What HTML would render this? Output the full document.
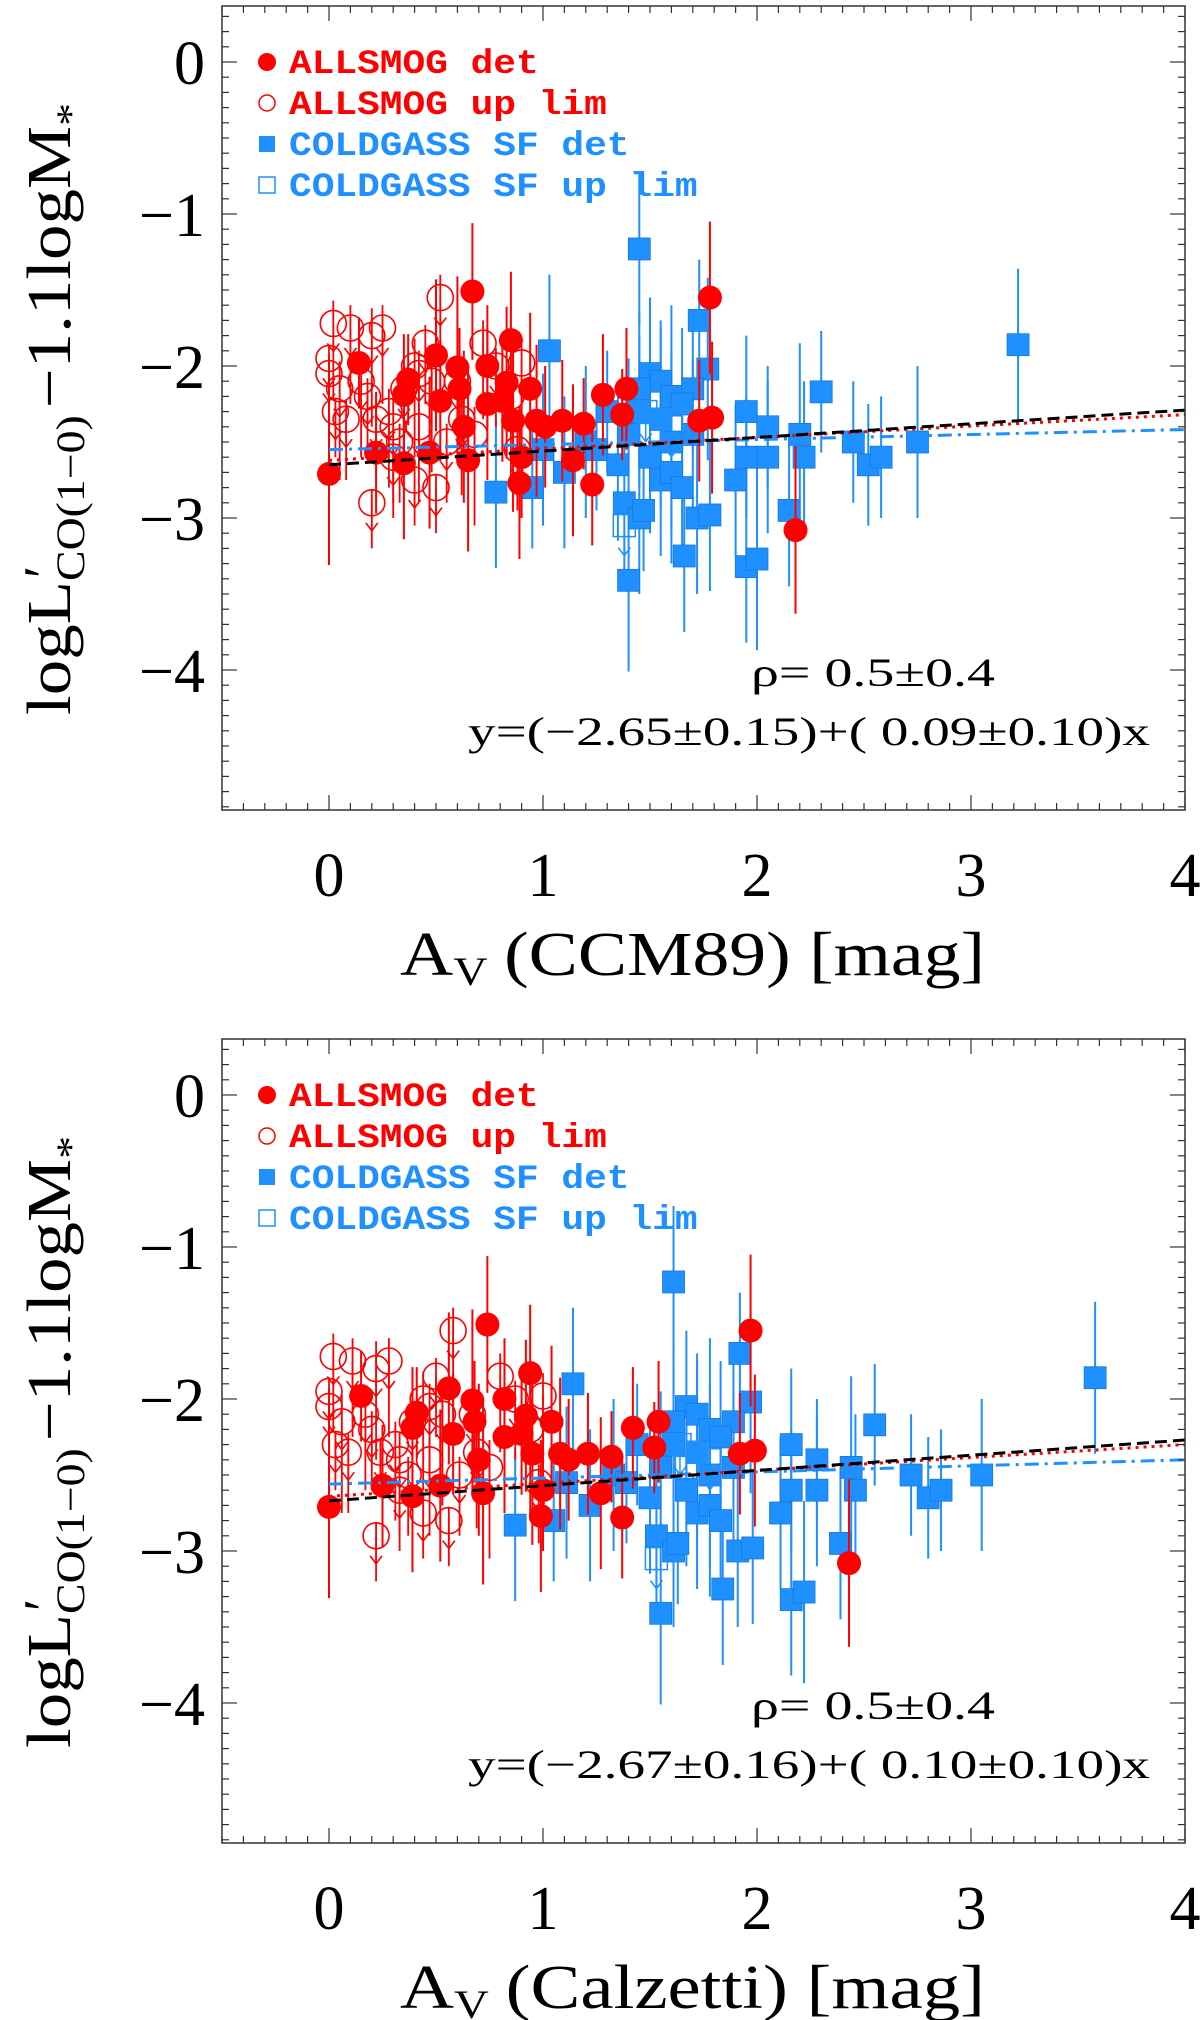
<!DOCTYPE html>
<html><head><meta charset="utf-8">
<style>
html,body{margin:0;padding:0;background:#fff;}
svg{display:block;font-family:"Liberation Serif",serif;}
</style></head>
<body>
<svg id="fig" width="1200" height="2020" viewBox="0 0 1200 2020" xmlns="http://www.w3.org/2000/svg"></svg>
<script>
// ---------- data (shared y values, panel-specific x) ----------
const redDetY  = [-2.71,-1.98,-2.57,-2.64,-2.19,-2.09,-1.93,-2.23,-2.01,-2.40,-2.62,-1.51,-2.00,-2.25,-2.23,-1.83,-2.11,-2.36,-2.60,-2.77,-2.15,-2.40,-2.36,-2.62,-2.38,-2.78,-2.19,-2.32,-2.15,-2.36,-2.34,-1.55,-3.08,-2.15,-2.36,-2.57];
const redDetErr= [0.6,0.3,0.4,0.5,0.4,0.3,0.5,0.4,0.6,0.5,0.6,0.45,0.4,0.5,0.4,0.45,0.5,0.6,0.4,0.5,0.5,0.4,0.4,0.5,0.3,0.4,0.4,0.3,0.4,0.4,0.5,0.5,0.55,0.4,0.5,0.5];
const redDetX1 = [0.00,0.14,0.22,0.35,0.35,0.37,0.50,0.52,0.60,0.63,0.65,0.67,0.74,0.74,0.81,0.85,0.83,0.86,0.90,0.89,0.94,1.01,1.09,1.14,1.19,1.23,1.28,1.37,1.39,1.73,1.79,1.78,2.18,0.61,0.97,0.47];
const redDetX2 = [0.00,0.15,0.25,0.39,0.39,0.41,0.56,0.58,0.67,0.70,0.72,0.74,0.82,0.82,0.90,0.94,0.92,0.95,1.00,0.99,1.04,1.12,1.21,1.27,1.32,1.37,1.42,1.52,1.54,1.92,1.99,1.97,2.43,0.68,1.08,0.52];

const redLimY  = [-1.95,-2.05,-1.72,-1.75,-2.30,-2.15,-2.35,-1.80,-1.75,-2.20,-2.35,-2.30,-2.90,-2.40,-2.50,-2.00,-2.05,-1.85,-2.10,-1.55,-2.40,-2.75,-2.80,-2.50,-2.35,-2.45,-1.85,-2.00,-2.20,-1.98,-2.55,-2.60,-2.15,-2.10,-2.10];
const redLimErr= [0.3,0.4,0.5,0.5,0.3,0.6,0.4,0.6,0.5,0.4,0.3,0.5,0.3,0.6,0.4,0.6,0.5,0.4,0.6,0.5,0.5,0.3,0.3,0.4,0.5,0.6,0.5,0.4,0.6,0.5,0.4,0.3,0.5,0.4,0.5];
const redLimX1 = [0.00,0.00,0.02,0.10,0.03,0.05,0.08,0.20,0.25,0.18,0.22,0.28,0.20,0.30,0.33,0.40,0.42,0.45,0.48,0.52,0.42,0.40,0.50,0.55,0.62,0.68,0.72,0.78,0.85,0.90,0.88,0.30,0.35,0.60,0.15];
const redLimX2 = [0.00,0.00,0.02,0.11,0.03,0.06,0.09,0.22,0.28,0.20,0.24,0.31,0.22,0.33,0.37,0.44,0.47,0.50,0.53,0.58,0.47,0.44,0.56,0.61,0.69,0.75,0.80,0.87,0.94,1.00,0.98,0.33,0.39,0.67,0.17];

const blueDetY  = [-1.23,-1.86,-1.70,-1.90,-2.02,-2.05,-2.10,-2.15,-2.20,-2.15,-2.17,-2.30,-2.40,-2.30,-2.35,-2.25,-2.30,-2.45,-2.60,-2.50,-2.45,-2.60,-2.60,-2.45,-2.60,-2.50,-2.65,-2.60,-2.50,-2.75,-2.70,-2.80,-2.75,-2.83,-2.80,-2.70,-2.50,-2.90,-3.00,-2.95,-3.00,-2.98,-3.25,-3.32,-3.27,-3.41,-2.95,-2.55,-2.65,-2.55];
const blueDetErr= [0.5,0.5,0.4,0.5,0.6,0.5,0.4,0.5,0.6,0.4,0.4,0.5,0.4,0.5,0.6,0.5,0.4,0.5,0.5,0.6,0.5,0.5,0.4,0.6,0.5,0.4,0.4,0.4,0.5,0.5,0.6,0.5,0.5,0.5,0.4,0.5,0.5,0.5,0.5,0.4,0.5,0.5,0.5,0.5,0.6,0.6,0.5,0.4,0.5,0.5];
const blueDetX1 = [1.45,3.22,1.73,1.03,1.77,1.50,1.55,1.45,1.60,1.70,2.30,1.95,2.05,1.45,1.55,1.65,1.30,1.40,1.50,1.60,1.70,2.05,1.95,2.20,2.22,2.45,2.52,2.58,2.75,1.55,1.60,1.65,1.90,0.78,0.95,1.10,1.20,1.38,1.45,1.47,1.72,1.78,1.66,1.95,2.00,1.40,2.15,1.25,1.35,1.00];
const blueDetX2 = [1.61,3.58,1.92,1.14,1.97,1.67,1.72,1.61,1.78,1.89,2.55,2.16,2.28,1.61,1.72,1.83,1.44,1.55,1.67,1.78,1.89,2.28,2.16,2.44,2.46,2.72,2.80,2.86,3.05,1.72,1.78,1.83,2.11,0.87,1.05,1.22,1.33,1.53,1.61,1.63,1.91,1.98,1.84,2.16,2.22,1.55,2.39,1.39,1.50,1.11];

const blueLimY  = [-2.35,-2.40,-2.45,-3.05,-2.30];
const blueLimX1 = [1.55,1.60,1.50,1.38,1.48];
const blueLimX2 = [1.72,1.78,1.67,1.53,1.64];

const fitBlackA = [-2.65,-2.67], fitBlackB = [0.09,0.10];
const fitRedA   = [-2.62,-2.64], fitRedB   = [0.075,0.085];
const fitBlueA  = [-2.55,-2.56], fitBlueB  = [0.033,0.04];

const xTickLabels = ["0","1","2","3","4"];
const yTickLabels = ["0","\u22121","\u22122","\u22123","\u22124"];
const xTitles = ["(CCM89) [mag]","(Calzetti) [mag]"];
const fitTexts = ["y=(\u22122.65\u00b10.15)+( 0.09\u00b10.10)x","y=(\u22122.67\u00b10.16)+( 0.10\u00b10.10)x"];
const rhoText = "\u03c1=  0.5\u00b10.4";

// ---------- drawing ----------
const NS="http://www.w3.org/2000/svg";
const svg=document.getElementById('fig');
const RED="#ff0000", BLUE="#1e90ff";
function mk(tag,attrs,parent){const e=document.createElementNS(NS,tag);for(const k in attrs)e.setAttribute(k,attrs[k]);(parent||svg).appendChild(e);return e;}

function panel(p,off){
  const g=mk('g',{});
  
  
  const L=222,R=1185,T=6+off,B=810+off;
  const X=v=>329+v*214;
  const Y=v=>62+off-v*152;
  const xs=p===0?[redDetX1,redLimX1,blueDetX1,blueLimX1]:[redDetX2,redLimX2,blueDetX2,blueLimX2];
  const cid='clip'+p;
  const cp=mk('clipPath',{id:cid},g);mk('rect',{x:L,y:T,width:R-L,height:B-T},cp);
  const data=mk('g',{'clip-path':'url(#'+cid+')'},g);
  
  
  const bd=mk('g',{},data);
  
  
  for(let i=0;i<blueDetY.length;i++){
    const x=X(xs[2][i]),y=Y(blueDetY[i]),e=blueDetErr[i]*152;
    mk('line',{x1:x,y1:y-e,x2:x,y2:y+e,stroke:BLUE,'stroke-width':2},bd);
  }
  for(let i=0;i<blueDetY.length;i++){
    const x=X(xs[2][i]),y=Y(blueDetY[i]);
    const r=mk('rect',{x:x-11,y:y-11,width:22,height:22,fill:BLUE,stroke:'#1878d8','stroke-width':0.8},bd);
    
    
  }
  const bl=mk('g',{},data);
  
  
  for(let i=0;i<blueLimY.length;i++){
    const x=X(xs[3][i]),y=Y(blueLimY[i]);
    mk('rect',{x:x-11,y:y-11,width:22,height:22,fill:'none',stroke:BLUE,'stroke-width':1.5},bl);
    mk('path',{d:`M${x} ${y} V${y+30} M${x-6} ${y+22} L${x} ${y+30} L${x+6} ${y+22}`,stroke:BLUE,fill:'none','stroke-width':1.5},bl);
  }
  const rl=mk('g',{},data);
  
  
  for(let i=0;i<redLimY.length;i++){
    const x=X(xs[1][i]),y=Y(redLimY[i]),e=redLimErr[i]*152;
    mk('line',{x1:x,y1:y-e*0.3,x2:x,y2:y+e,stroke:RED,'stroke-width':1.8},rl);
    mk('circle',{cx:x,cy:y,r:13,fill:'none',stroke:RED,'stroke-width':1.6},rl);
    mk('path',{d:`M${x} ${y} V${y+28} M${x-6} ${y+20} L${x} ${y+28} L${x+6} ${y+20}`,stroke:RED,fill:'none','stroke-width':1.6},rl);
  }
  const rd=mk('g',{},data);
  
  
  for(let i=0;i<redDetY.length;i++){
    const x=X(xs[0][i]),y=Y(redDetY[i]),e=redDetErr[i]*152;
    mk('line',{x1:x,y1:y-e,x2:x,y2:y+e,stroke:RED,'stroke-width':2},rd);
  }
  for(let i=0;i<redDetY.length;i++){
    const c=mk('circle',{cx:X(xs[0][i]),cy:Y(redDetY[i]),r:12,fill:RED},rd);
    
    
  }
  const fitLine=(a,b,x0,col,dash,name)=>{
    const l=mk('line',{x1:X(x0),y1:Y(a+b*x0),x2:X(4),y2:Y(a+b*4),stroke:col,'stroke-width':3,'stroke-dasharray':dash},data);
    
    
  };
  fitLine(fitBlueA[p],fitBlueB[p],0,BLUE,'14 6 3 6','coldgass-fit-line');
  fitLine(fitRedA[p],fitRedB[p],0,RED,'3 5','allsmog-fit-line');
  fitLine(fitBlackA[p],fitBlackB[p],0,'#000','12 6','combined-fit-line');
  const fr=mk('rect',{x:L,y:T,width:R-L,height:B-T,fill:'none',stroke:'#333','stroke-width':1.5},g);
  
  
  const tk=mk('g',{stroke:'#333','stroke-width':1.2},g);
  
  
  for(let k=-5;k<=40;k++){
    const v=k/10,x=X(v);if(x<L||x>R)continue;
    const len=(k%10===0)?15:7;
    mk('line',{x1:x,y1:B,x2:x,y2:B-len},tk);mk('line',{x1:x,y1:T,x2:x,y2:T+len},tk);
  }
  for(let k=-49;k<=3;k++){
    const v=k/10,y=Y(v);if(y<T||y>B)continue;
    const len=(k%10===0)?15:7;
    mk('line',{x1:L,y1:y,x2:L+len,y2:y},tk);mk('line',{x1:R,y1:y,x2:R-len,y2:y},tk);
  }
  for(let i=0;i<xTickLabels.length;i++){
    const t=mk('text',{x:X(i),y:896+off,'font-size':62,'text-anchor':'middle',fill:'#000'},g);
    t.textContent=xTickLabels[i];
    
    
  }
  for(let i=0;i<yTickLabels.length;i++){
    const t=mk('text',{x:205,y:Y(-i)+22,'font-size':62,'text-anchor':'end',fill:'#000'},g);
    t.textContent=yTickLabels[i];
    
    
  }
  const xt=mk('text',{x:400,y:975+off,'font-size':62,fill:'#000',textLength:585,lengthAdjust:'spacingAndGlyphs'},g);
  
  
  const a=mk('tspan',{},xt);a.textContent='A';
  const s=mk('tspan',{'font-size':40,dy:10},xt);s.textContent='V';
  const rest=mk('tspan',{dy:-10,dx:14},xt);rest.textContent=xTitles[p];
  const yt=mk('text',{transform:`translate(70 ${715+off}) rotate(-90)`,'font-size':62,fill:'#000',textLength:612,lengthAdjust:'spacingAndGlyphs'},g);
  
  
  const y1=mk('tspan',{},yt);y1.textContent='logL';
  const y2=mk('tspan',{'font-size':40,dy:14},yt);y2.textContent='CO(1\u22120)';
  const y4=mk('tspan',{'font-size':62,dy:-14,dx:6},yt);y4.textContent='\u22121.1logM';
  const y5=mk('tspan',{'font-size':40,dy:14},yt);y5.textContent='*';
  const pr=mk('text',{transform:`translate(62 ${578+off}) rotate(-90)`,'font-size':56,fill:'#000'},g);
  pr.textContent='\u2032';
  
  
  const r1=mk('text',{x:751,y:686+off,'font-size':40,fill:'#000',textLength:244,lengthAdjust:'spacingAndGlyphs'},g);r1.textContent=rhoText;
  
  
  const r2=mk('text',{x:468,y:745+off,'font-size':40,fill:'#000',textLength:682,lengthAdjust:'spacingAndGlyphs'},g);r2.textContent=fitTexts[p];
  
  
  const lg=mk('g',{'font-family':'Liberation Mono, monospace','font-weight':'bold','font-size':34},g);
  
  
  const entries=[['ALLSMOG det',RED,'fc'],['ALLSMOG up lim',RED,'oc'],['COLDGASS SF det',BLUE,'fs'],['COLDGASS SF up lim',BLUE,'os']];
  entries.forEach((en,i)=>{
    const cy=62+off+i*41;
    const eg=mk('g',{},lg);
    
    
    if(en[2]==='fc')mk('circle',{cx:267,cy:cy,r:9,fill:en[1]},eg);
    if(en[2]==='oc')mk('circle',{cx:267,cy:cy,r:8,fill:'none',stroke:en[1],'stroke-width':1.5},eg);
    if(en[2]==='fs')mk('rect',{x:259,y:cy-8,width:16,height:16,fill:en[1]},eg);
    if(en[2]==='os')mk('rect',{x:259,y:cy-8,width:16,height:16,fill:'none',stroke:en[1],'stroke-width':1.5},eg);
    const t=mk('text',{x:289,y:cy+11,fill:en[1],textLength:en[0].length*22.7,lengthAdjust:'spacingAndGlyphs'},eg);
    t.textContent=en[0];
  });
}
panel(0,0);
panel(1,1033);
</script>
</body></html>
